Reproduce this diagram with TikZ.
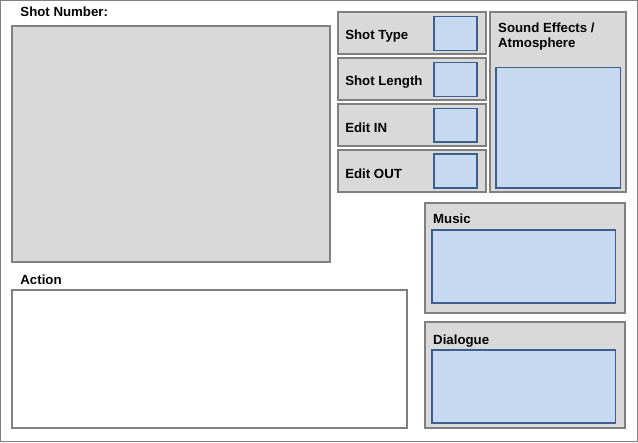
\documentclass[tikz,border=0pt]{standalone}
\usepackage{fontspec}
\setmainfont{Liberation Sans}
\usetikzlibrary{positioning}
\definecolor{slotfill}{HTML}{C6D9F1}
\definecolor{slotline}{HTML}{3D5F8F}
\definecolor{panelfill}{HTML}{D9D9D9}
\definecolor{panelline}{HTML}{808080}

\begin{document}
\begin{tikzpicture}[
    x=0.0265cm, y=-0.0265cm,
    panel/.style={draw=panelline, line width=1.2pt, fill=panelfill},
    slot/.style={draw=slotline, line width=0.9pt, fill=slotfill},
    blank/.style={draw=panelline, line width=1.2pt, fill=white},
    label/.style={font=\fontsize{10}{12}\selectfont\bfseries, anchor=west, align=left, inner sep=0pt}
]

% Page frame
\draw[draw=panelline, line width=1pt, fill=white] (0.5,0.5) rectangle (637.5,441.5);

% Shot picture
\node[label] (shotnum) at (20,12) {Shot Number:};
\draw[panel] (12,26) rectangle (330,262);

% Action
\node[label] (action) at (20,280) {Action};
\draw[blank] (12,290) rectangle (407,428);

% Small fields
\foreach \ytop/\txt in {12/Shot Type, 58/Shot Length, 104/Edit IN, 150/Edit OUT}{
    \draw[panel] (338,\ytop) rectangle (486,\ytop+42);
    \draw[slot] (434,\ytop+4) rectangle (477,\ytop+38);
    \node[label] at (345,\ytop+24) {\txt};
}

% Sound effects
\draw[panel] (490,12) rectangle (626,192);
\draw[slot] (496,67) rectangle (621,188);
\node[label, anchor=north west] (sfx) at (498,22) {Sound Effects /\\Atmosphere};

% Music
\draw[panel] (425,203) rectangle (625,313);
\draw[slot] (432,230) rectangle (616,303);
\node[label] (music) at (433,219) {Music};

% Dialogue
\draw[panel] (425,322) rectangle (625,428);
\draw[slot] (432,350) rectangle (616,423);
\node[label] (dialogue) at (433,341) {Dialogue};

\end{tikzpicture}
\end{document}
